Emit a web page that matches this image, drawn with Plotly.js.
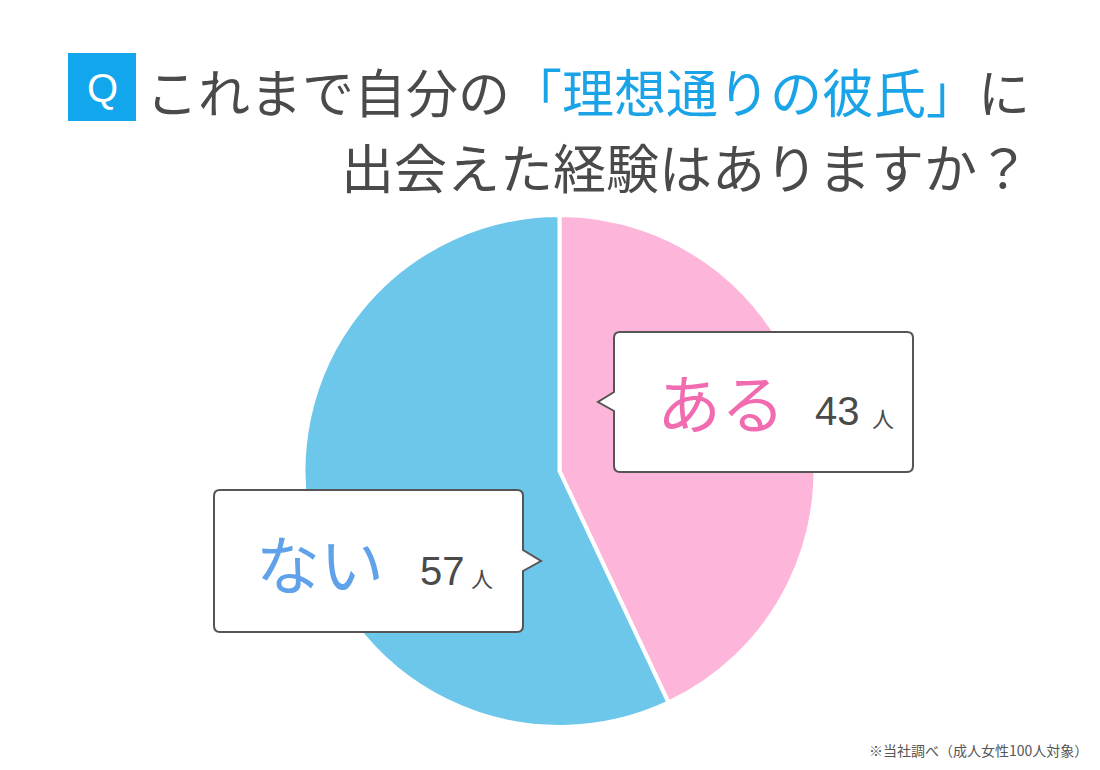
<!DOCTYPE html>
<html>
<head>
<meta charset="utf-8">
<script src="https://cdn.plot.ly/plotly-3.0.1.min.js"></script>
<style>html,body{margin:0;padding:0;background:#fff;}#chart{width:1100px;height:770px;}</style>
</head>
<body>
<div id="chart"></div>
<script>
// ---- data ----
var labels = ['ある', 'ない'];
var values = [43, 57];
var units = ['人', '人'];
var sliceColors = ['#FDB6D9', '#6DC7EB'];
var labelColors = ['#F06BAF', '#5FA2EA'];
var titleLine1Pre = 'これまで自分の';
var titleLine1Hi = '「理想通りの彼氏」';
var titleLine1Post = 'に';
var titleLine2 = '出会えた経験はありますか？';
var qMark = 'Q';
var footnote = '※当社調べ（成人女性100人対象）';

// ---- helpers (pixel -> paper) ----
var W = 1100, H = 770;
function px(x) { return x / W; }
function py(y) { return 1 - y / H; }
function pt(x, y) { return px(x) + ',' + py(y); }

function bubble(l, t, r, b, rad, side, tipX, tipY, baseTop, baseBot) {
  var d = 'M' + pt(l + rad, t) + ' L' + pt(r - rad, t) + ' Q' + pt(r, t) + ' ' + pt(r, t + rad);
  if (side === 'right') {
    d += ' L' + pt(r, baseTop) + ' L' + pt(tipX, tipY) + ' L' + pt(r, baseBot);
  }
  d += ' L' + pt(r, b - rad) + ' Q' + pt(r, b) + ' ' + pt(r - rad, b);
  d += ' L' + pt(l + rad, b) + ' Q' + pt(l, b) + ' ' + pt(l, b - rad);
  if (side === 'left') {
    d += ' L' + pt(l, baseBot) + ' L' + pt(tipX, tipY) + ' L' + pt(l, baseTop);
  }
  d += ' L' + pt(l, t + rad) + ' Q' + pt(l, t) + ' ' + pt(l + rad, t) + ' Z';
  return d;
}

var cx = 559.5, cy = 471, R = 256;

var trace = {
  type: 'pie',
  labels: labels,
  values: values,
  sort: false,
  direction: 'clockwise',
  rotation: 0,
  textinfo: 'none',
  hoverinfo: 'none',
  marker: { colors: sliceColors, line: { color: '#ffffff', width: 4 } },
  domain: { x: [px(cx - R), px(cx + R)], y: [py(cy + R), py(cy - R)] }
};

var JP = '"Noto Sans CJK JP", "Noto Sans", sans-serif';
var NUM = '"Liberation Sans", Arial, sans-serif';
var gray = '#4A4A4A';

var shapes = [
  { type: 'rect', xref: 'paper', yref: 'paper', x0: px(68), x1: px(136), y0: py(121), y1: py(53),
    fillcolor: '#12A6EC', line: { width: 0 } },
  { type: 'path', xref: 'paper', yref: 'paper', path: bubble(614, 332, 913, 472, 6, 'left', 598, 402, 392, 411),
    fillcolor: '#ffffff', line: { color: '#555555', width: 2 } },
  { type: 'path', xref: 'paper', yref: 'paper', path: bubble(214, 490, 523, 632, 6, 'right', 541, 561, 550, 571),
    fillcolor: '#ffffff', line: { color: '#555555', width: 2 } }
];

function ann(text, x, y, size, color, family, xanchor) {
  return { text: text, x: px(x), y: py(y), xref: 'paper', yref: 'paper', showarrow: false,
    xanchor: xanchor || 'center', yanchor: 'middle', font: { size: size, color: color, family: family } };
}

var annotations = [
  ann(qMark, 102, 88, 40, '#ffffff', '"Liberation Sans", sans-serif'),
  ann(titleLine1Pre + '<span style="color:#1BA3E8">' + titleLine1Hi + '</span>' + titleLine1Post, 1032, 90, 52, gray, JP, 'right'),
  ann(titleLine2, 1032, 166, 53, gray, JP, 'right'),
  ann(labels[0], 721, 400, 64, labelColors[0], JP),
  ann(String(values[0]), 837, 411, 40, gray, NUM),
  ann(units[0], 883, 417, 22, gray, JP),
  ann(labels[1], 320, 561, 64, labelColors[1], JP),
  ann(String(values[1]), 442, 571, 40, gray, NUM),
  ann(units[1], 482, 577, 22, gray, JP),
  ann(footnote, 1090, 750, 14, '#555555', JP, 'right')
];

var layout = {
  width: W, height: H,
  margin: { l: 0, r: 0, t: 0, b: 0, pad: 0 },
  paper_bgcolor: '#ffffff',
  showlegend: false,
  shapes: shapes,
  annotations: annotations
};

Plotly.newPlot('chart', [trace], layout, { displayModeBar: false, staticPlot: true });
</script>
</body>
</html>
